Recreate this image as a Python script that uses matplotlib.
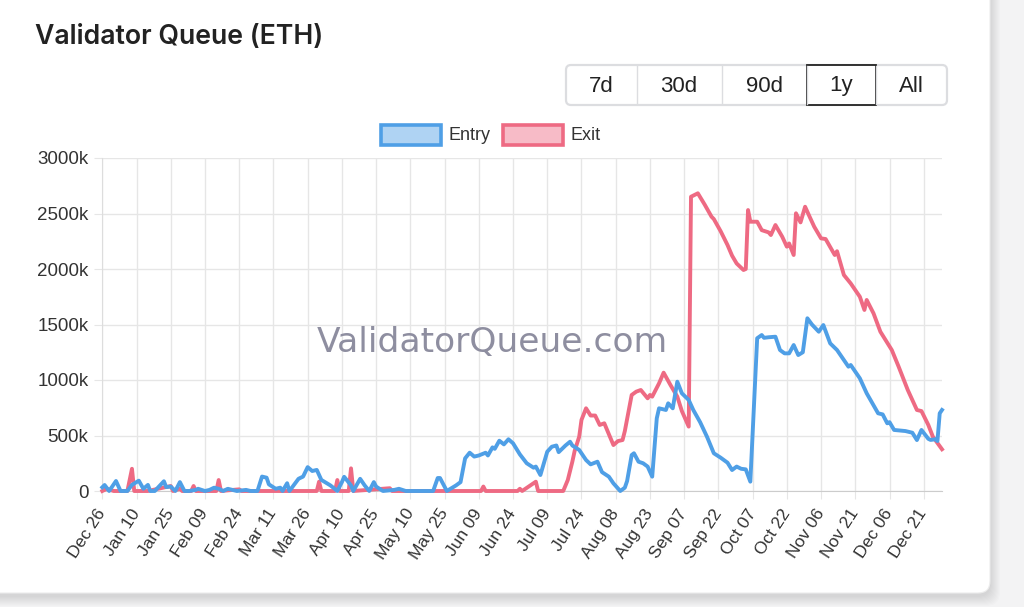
import numpy as np
import pandas as pd
import matplotlib
matplotlib.use('Agg')
import matplotlib.pyplot as plt
from matplotlib.patches import FancyBboxPatch, Rectangle

plt.rcParams['font.family'] = ['Liberation Sans', 'DejaVu Sans']

# --- data (queue size in thousands of ETH, by day offset from the start date)
start = pd.Timestamp('2024-12-26')

entry_days = [0, 1, 3, 6, 8, 11, 13, 16, 18, 20, 21, 23, 27, 28, 30, 32, 34, 36, 38, 41,
              42, 45, 47, 49, 51, 53, 55, 59, 63, 65, 68, 70, 72, 73, 76, 78, 79, 81, 82, 86,
              88, 90, 92, 94, 96, 100, 103, 105, 106, 109, 110, 113, 115, 117, 119, 120, 123, 128, 130, 133,
              145, 147, 148, 151, 155, 157, 159, 161, 163, 165, 168, 169, 171, 172, 174, 176, 178, 180, 183, 186,
              189, 190, 192, 195, 197, 199, 200, 203, 205, 206, 209, 212, 214, 217, 219, 222, 224, 227, 229, 230,
              232, 233, 235, 237, 239, 241, 243, 244, 247, 248, 250, 251, 252, 254, 257, 259, 262, 265, 268, 271,
              274, 276, 278, 280, 282, 284, 285, 287, 289, 290, 292, 295, 297, 299, 301, 303, 305, 307, 309, 311,
              314, 316, 319, 322, 324, 327, 328, 332, 335, 340, 342, 344, 345, 347, 352, 355, 357, 359, 362, 363,
              365, 366, 367, 368]
entry_k = [33, 54, 0, 90, 0, 0, 55, 93, 20, 55, 0, 0, 88, 35, 40, 0, 80, 0, 0, 10,
           20, 0, 10, 30, 20, 0, 20, 0, 10, 0, 0, 130, 120, 60, 20, 30, 0, 70, 0, 110,
           130, 215, 180, 190, 100, 50, 0, 80, 128, 50, 0, 110, 50, 0, 80, 40, 0, 10, 20, 0,
           0, 117, 117, 0, 50, 80, 294, 345, 310, 320, 345, 320, 393, 380, 453, 420, 466, 430, 330, 250,
           210, 220, 144, 354, 399, 410, 350, 410, 444, 410, 370, 279, 240, 264, 170, 129, 69, 0, 30, 90,
           324, 340, 264, 250, 220, 129, 655, 745, 730, 790, 745, 865, 985, 880, 820, 730, 620, 489, 340, 300,
           255, 189, 220, 200, 195, 84, 520, 1376, 1405, 1380, 1385, 1390, 1270, 1240, 1240, 1315, 1225, 1250, 1556, 1500,
           1435, 1495, 1330, 1270, 1210, 1120, 1135, 1015, 880, 700, 690, 610, 620, 550, 540, 525, 459, 550, 470, 460,
           466, 450, 700, 730]

exit_days = [0, 2, 5, 11, 13, 14, 20, 30, 31, 34, 35, 39, 40, 41, 50, 51, 52, 60, 61, 94,
             95, 96, 102, 103, 104, 108, 109, 110, 126, 127, 166, 167, 168, 182, 183, 184, 190, 191, 202, 204,
             206, 207, 209, 210, 212, 214, 216, 218, 220, 224, 226, 228, 229, 232, 234, 236, 239, 240, 241, 244,
             246, 249, 252, 254, 257, 258, 261, 264, 267, 268, 271, 274, 276, 278, 281, 282, 283, 284, 287, 289,
             292, 293, 295, 298, 300, 301, 303, 304, 306, 308, 310, 312, 315, 317, 321, 322, 325, 328, 332, 334,
             335, 338, 341, 346, 349, 353, 357, 359, 362, 364, 368]
exit_k = [0, 20, 0, 0, 200, 0, 0, 45, 0, 20, 0, 0, 45, 0, 0, 99, 0, 15, 0, 0,
          84, 0, 0, 99, 0, 0, 204, 0, 25, 0, 0, 40, 0, 0, 20, 0, 84, 0, 0, 99,
          264, 360, 489, 640, 745, 680, 680, 595, 610, 414, 450, 459, 540, 865, 895, 910, 835, 865, 850, 970,
          1066, 955, 850, 720, 580, 2651, 2682, 2580, 2471, 2450, 2340, 2216, 2120, 2050, 1991, 2000, 2531, 2426, 2426, 2350,
          2330, 2306, 2396, 2290, 2201, 2230, 2126, 2502, 2420, 2561, 2470, 2381, 2276, 2270, 2126, 2160, 1946, 1870, 1750, 1631,
          1721, 1600, 1435, 1270, 1120, 910, 730, 720, 595, 489, 376]

y_ticks = [0, 500, 1000, 1500, 2000, 2500, 3000]
range_buttons = ['7d', '30d', '90d', '1y', 'All']
active_button = '1y'
series_names = ['Entry', 'Exit']

entry_color = '#4f9fe6'
exit_color = '#ee6a83'

W, H = 1024, 607
fig = plt.figure(figsize=(W / 100, H / 100), dpi=100, facecolor='#f3f3f4')

# background layer in pixel coordinates (card, title, buttons, legend)
bg = fig.add_axes([0, 0, 1, 1], zorder=-1)
bg.set_xlim(0, W)
bg.set_ylim(H, 0)
bg.axis('off')

for i in range(10):
    grow = 10 - i
    bg.add_patch(FancyBboxPatch((-40 - grow, -40 - grow + 3), 1030 + 2 * grow, 633 + 2 * grow,
                                boxstyle='round,pad=0,rounding_size=14',
                                fc='#000000', ec='none', alpha=0.012))
bg.add_patch(FancyBboxPatch((-40, -40), 1030, 633, boxstyle='round,pad=0,rounding_size=12',
                            fc='white', ec='#ececec', lw=0.8))

bg.text(35, 37, 'Validator Queue (ETH)', fontsize=19.2, color='#222222',
        ha='left', va='center', family=['Inter', 'DejaVu Sans'], weight='semibold')

# range selector buttons
edges = [566, 636.5, 721.5, 807, 876, 947]
bg.add_patch(FancyBboxPatch((edges[0], 65), edges[-1] - edges[0], 40,
                            boxstyle='round,pad=0,rounding_size=5',
                            fc='white', ec='#dcdde0', lw=1.6))
for x in edges[1:-1]:
    bg.plot([x, x], [66, 104], color='#dcdde0', lw=1.0)
for label, x0, x1 in zip(range_buttons, edges[:-1], edges[1:]):
    if label == active_button:
        bg.add_patch(Rectangle((x0, 65), x1 - x0, 40, fc='white', ec='#222222', lw=1.3))
    bg.text((x0 + x1) / 2, 86, label, fontsize=16, color='#222222', ha='center', va='center')

# legend
for name, color, bx in zip(series_names, [entry_color, exit_color], [381, 503]):
    bg.add_patch(Rectangle((bx, 125), 60, 20, fc=color, ec='none', alpha=0.45))
    bg.add_patch(Rectangle((bx, 125), 60, 20, fc='none', ec=color, lw=2.6))
    bg.text(bx + 68, 135, name, fontsize=13, color='#333333', ha='left', va='center')

# main chart
ax = fig.add_axes([102.3 / W, (H - 491) / H, (942 - 102.3) / W, 333 / H])
ax.set_facecolor('none')

entry_dates = start + pd.to_timedelta(entry_days, unit='D')
exit_dates = start + pd.to_timedelta(exit_days, unit='D')

ax.plot(entry_dates, entry_k, color=entry_color, lw=2.8, clip_on=False, zorder=4,
        solid_joinstyle='round')
ax.plot(exit_dates, exit_k, color=exit_color, lw=2.8, clip_on=False, zorder=3,
        solid_joinstyle='round')

ax.text(0.465, 0.445, 'ValidatorQueue.com', transform=ax.transAxes, fontsize=24.8,
        color='#8e8ea0', ha='center', va='center', family='DejaVu Sans', zorder=2)

tick_dates = pd.date_range(start, periods=25, freq='15D')
ax.set_xticks(tick_dates)
ax.set_xticklabels(tick_dates.strftime('%b %d'), rotation=57, ha='right', va='center',
                   rotation_mode='anchor')
ax.set_xlim(start, start + pd.Timedelta(days=368))
ax.set_ylim(0, 3000)
ax.set_yticks(y_ticks)
ax.set_yticklabels([f'{v}k' if v else '0' for v in y_ticks])

ax.grid(True, color='#e6e6e6', lw=1.0, zorder=0)
ax.set_axisbelow(True)
ax.tick_params(axis='both', length=6, color='#e6e6e6', labelsize=13.5, labelcolor='#333333')
ax.tick_params(axis='x', pad=8, labelsize=12.5)
ax.tick_params(axis='y', pad=4)
for side in ['top', 'right']:
    ax.spines[side].set_visible(False)
ax.spines['left'].set_color('#dddddd')
ax.spines['bottom'].set_color('#cccccc')

fig.savefig('out.png', dpi=100, facecolor=fig.get_facecolor())
